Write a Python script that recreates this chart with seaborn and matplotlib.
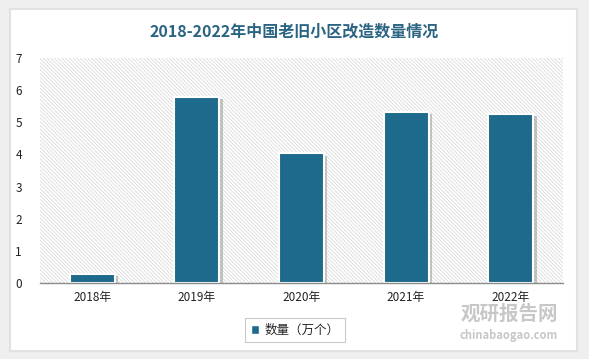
import pandas as pd
import matplotlib
matplotlib.use("Agg")
import matplotlib.pyplot as plt
import matplotlib.patheffects as pe
from matplotlib.patches import Rectangle
import seaborn as sns

# data
years = ["2018年", "2019年", "2020年", "2021年", "2022年"]
counts = [0.28, 5.80, 4.03, 5.33, 5.25]
series_name = "数量（万个）"
title = "2018-2022年中国老旧小区改造数量情况"

df = pd.DataFrame({"year": years, "count": counts})

sns.set_theme(style="white")
plt.rcParams["font.family"] = ["Noto Sans CJK SC", "DejaVu Sans"]
plt.rcParams["hatch.linewidth"] = 0.5
plt.rcParams["hatch.color"] = "#d4d4d4"

bar_color = "#1d6a8c"

fig = plt.figure(figsize=(5.89, 3.59), dpi=100)
fig.patch.set_facecolor("#efefef")

# white card behind everything
card_ax = fig.add_axes([10 / 589, 8 / 359, 567 / 589, 342 / 359], zorder=-10)
card_ax.set_xticks([])
card_ax.set_yticks([])
card_ax.set_facecolor("white")
for s in card_ax.spines.values():
    s.set_color("#e2e2e2")
    s.set_linewidth(1.5)

ax = fig.add_axes([40 / 589, 1 - 283 / 359, 523 / 589, 225 / 359], zorder=1)
ax.set_facecolor("none")

# hatched plot background
bg = Rectangle((0, 0), 1, 1, transform=ax.transAxes, facecolor="white",
               edgecolor="#d4d4d4", hatch="\\" * 9, linewidth=0, zorder=0)
ax.add_patch(bg)

sns.barplot(data=df, x="year", y="count", color=bar_color, width=0.43,
            saturation=1, ax=ax, zorder=3, label=series_name)

ax.set_ylim(0, 7)
ax.set_xlim(-0.5, 4.5)
ax.set_yticks(range(0, 8))
ax.set_xlabel("")
ax.set_ylabel("")
for s in ["top", "right", "left"]:
    ax.spines[s].set_visible(False)
ax.spines["bottom"].set_color("#8c8c8c")
ax.spines["bottom"].set_linewidth(1.0)
ax.spines["bottom"].set_zorder(5)
ax.tick_params(axis="both", length=0, labelsize=8.5, colors="#222222")
ax.tick_params(axis="y", pad=13)
ax.tick_params(axis="x", pad=6)

fig.text(0.5, 1 - 32 / 359, title, ha="center", va="center",
         fontsize=11.5, fontweight="bold", color="#2a6482")

leg = ax.legend(loc="center", bbox_to_anchor=(295 / 589, 1 - 330 / 359),
                bbox_transform=fig.transFigure, frameon=True, fancybox=False,
                fontsize=9, handlelength=0.7, handleheight=0.7, handletextpad=0.4,
                borderpad=0.45)
leg.get_frame().set_edgecolor("#bbbbbb")
leg.get_frame().set_linewidth(0.8)

# white edge + soft shadow on the bars only (after the legend is built)
for p in ax.patches[1:]:
    p.set_edgecolor("white")
    p.set_linewidth(1.5)
    p.set_path_effects([pe.SimplePatchShadow(offset=(2.5, -1.5), shadow_rgbFace="#777777", alpha=0.4),
                        pe.Normal()])

# watermark
fig.text(509 / 589, 1 - 314 / 359, "观研报告网", ha="center", va="center",
         fontsize=14, fontweight="bold", color="#9a9a9a", alpha=0.55)
fig.text(509 / 589, 1 - 336 / 359, "chinabaogao.com", ha="center", va="center",
         fontsize=8, fontweight="bold", color="#9a9a9a", alpha=0.55)

fig.savefig("out.png", dpi=100, facecolor=fig.get_facecolor())
